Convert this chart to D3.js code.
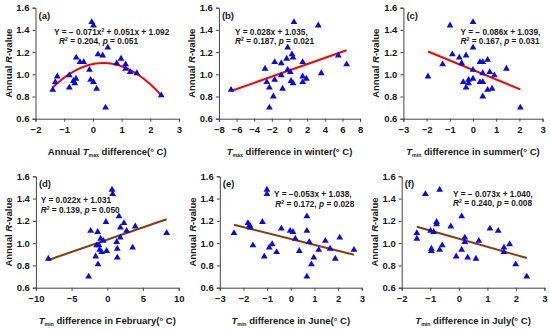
<!DOCTYPE html>
<html><head><meta charset="utf-8">
<script src="https://cdn.jsdelivr.net/npm/d3@7"></script>
<style>
body{margin:0;background:#fff}
svg{display:block}
text{font-family:"Liberation Sans",Arial,sans-serif;font-weight:bold;fill:#1a1a1a}
</style>
</head><body>
<svg id="c" width="550" height="330"></svg>
<script>
// ---------- data ----------
const yTicks = [0.6, 0.8, 1.0, 1.2, 1.4, 1.6];

const aXTicks = [-2, -1, 0, 1, 2, 3];
const aX = [-1.40,-1.31,-1.24,-0.82,-0.82,-0.68,-0.63,-0.59,-0.58,-0.45,-0.32,-0.12,-0.08,0.02,-0.04,0.02,0.13,0.18,0.34,0.44,0.52,0.83,0.98,1.14,1.14,1.30,1.53,2.38];
const aY = [0.86,0.93,0.98,0.99,0.88,0.94,0.92,0.96,1.15,1.11,1.11,1.04,0.95,0.93,1.47,1.44,0.87,1.18,1.17,0.70,1.24,1.10,1.14,1.09,1.05,1.02,1.01,0.81];
const aFit = [-0.071, 0.051, 1.092];

const bXTicks = [-8, -6, -4, -2, 0, 2, 4, 6, 8];
const bX = [-6.62,-2.77,-2.58,-2.28,-2.28,-1.83,-1.68,-1.68,-0.93,-0.93,-0.78,-0.32,-0.21,-0.21,0.09,0.17,0.28,0.40,0.40,0.51,1.49,1.49,1.49,1.91,3.26,3.60,5.53,6.47];
const bY = [0.86,1.05,0.93,0.88,0.70,0.80,1.11,0.95,1.10,0.99,0.87,1.14,1.24,1.04,1.02,0.94,1.18,1.15,0.92,1.47,1.11,0.98,0.93,0.96,1.44,1.01,1.17,1.09];
const bFit = [0, 0.028, 1.035];

const cXTicks = [-3, -2, -1, 0, 1, 2, 3];
const cX = [-1.94,-1.31,-0.99,-0.89,-0.59,-0.49,-0.42,-0.30,-0.30,-0.19,-0.19,0.00,0.00,0.00,0.00,0.30,0.42,0.30,0.42,0.42,0.42,0.63,0.63,0.72,0.82,0.92,1.44,2.04];
const cY = [0.98,1.09,1.44,1.18,1.15,1.10,0.93,1.17,0.88,0.95,0.92,1.47,1.24,1.04,0.96,1.11,1.11,0.93,0.93,1.01,0.80,1.13,0.86,1.02,0.87,0.99,1.05,0.70];
const cFit = [0, -0.086, 1.039];

const dXTicks = [-10, -5, 0, 5, 10];
const dX = [-8.26,-2.61,-2.33,-1.63,-1.49,-1.35,-1.30,-1.16,-1.07,-0.93,-0.79,-0.56,-0.19,-0.09,0.66,0.75,1.31,1.40,1.40,1.64,1.83,1.83,2.34,2.71,3.55,3.92,8.31];
const dY = [0.86,0.70,1.11,0.88,0.98,1.10,0.81,0.98,0.94,1.04,0.92,1.02,1.19,0.93,1.48,1.44,1.01,0.95,0.87,1.24,1.14,1.05,1.18,1.11,0.96,1.15,1.09];
const dFit = [0, 0.022, 1.031];

const eXTicks = [-3, -2, -1, 0, 1, 2, 3];
const eX = [-2.40,-1.81,-1.74,-1.71,-1.60,-1.20,-1.12,-1.01,-1.01,-0.91,-0.79,-0.60,-0.40,-0.03,0.09,0.19,0.36,0.68,0.68,0.68,0.78,0.87,0.97,1.18,1.46,1.66,1.88,2.07,2.67];
const eY = [1.09,1.18,1.16,1.14,0.98,1.19,0.88,1.48,1.44,0.96,0.99,0.92,1.13,1.11,1.10,1.04,0.93,1.24,1.11,0.70,1.01,0.81,0.87,0.94,1.02,0.95,0.86,1.05,0.94];
const eFit = [0, -0.053, 1.038];

const fXTicks = [-2, -1, 0, 1, 2, 3];
const fX = [-1.47,-1.47,-1.17,-0.99,-0.96,-0.96,-0.88,-0.78,-0.78,-0.67,-0.67,-0.58,-0.28,-0.09,0.10,0.10,0.21,0.21,0.31,0.60,0.70,1.09,1.38,1.58,1.58,1.78,1.99,2.38];
const fY = [1.09,1.04,1.44,1.11,0.95,0.93,1.10,1.19,1.17,1.48,0.94,0.98,1.15,0.88,1.24,0.94,1.05,1.01,0.87,0.86,1.02,1.13,1.11,0.96,0.92,0.99,0.81,0.70];
const fFit = [0, -0.073, 1.040];

// text pieces
const yTitle = [{t:"Annual "},{t:"R",i:true},{t:"-value"}];
const titles = {
  a: [{t:"Annual "},{t:"T",i:true},{t:"max",sub:true},{t:" difference(° C)"}],
  b: [{t:"T",i:true},{t:"max",sub:true},{t:" difference in winter(° C)"}],
  c: [{t:"T",i:true},{t:"min",sub:true},{t:" difference in summer(° C)"}],
  d: [{t:"T",i:true},{t:"min",sub:true},{t:" difference in February(° C)"}],
  e: [{t:"T",i:true},{t:"min",sub:true},{t:" difference in June(° C)"}],
  f: [{t:"T",i:true},{t:"min",sub:true},{t:" difference in July(° C)"}]
};
const eqs = {
  a: [[{t:"Y = − 0.071x"},{t:"2",sup:true},{t:" + 0.051x + 1.092"}],
      [{t:"R",i:true},{t:"2",sup:true},{t:" = 0.204, "},{t:"p",i:true},{t:" = 0.051"}]],
  b: [[{t:"Y = 0.028x + 1.035,"}],
      [{t:"R",i:true},{t:"2",sup:true},{t:" = 0.187, "},{t:"p",i:true},{t:" = 0.021"}]],
  c: [[{t:"Y = − 0.086x + 1.039,"}],
      [{t:"R",i:true},{t:"2",sup:true},{t:" = 0.167, "},{t:"p",i:true},{t:" = 0.031"}]],
  d: [[{t:"Y = 0.022x + 1.031"}],
      [{t:"R",i:true},{t:"2",sup:true},{t:" = 0.139, "},{t:"p",i:true},{t:" = 0.050"}]],
  e: [[{t:"Y = −0.053x + 1.038,"}],
      [{t:"R",i:true},{t:"2",sup:true},{t:" = 0.172, "},{t:"p",i:true},{t:" = 0.028"}]],
  f: [[{t:"Y = − 0.073x + 1.040,"}],
      [{t:"R",i:true},{t:"2",sup:true},{t:" = 0.240, "},{t:"p",i:true},{t:" = 0.008"}]]
};

// ---------- layout ----------
const RED = "#ff0000", BROWN = "#8b3a0a";
const panels = [
  {k:"a", x:aX, y:aY, ticks:aXTicks, fit:aFit, col:RED,   box:[35.5,179,7.7,118.7],   eq:[[54,34.7],[59,44.2]]},
  {k:"b", x:bX, y:bY, ticks:bXTicks, fit:bFit, col:RED,   box:[218.9,360.1,7.7,118.7], eq:[[235,34.5],[235,44]]},
  {k:"c", x:cX, y:cY, ticks:cXTicks, fit:cFit, col:RED,   box:[403.4,542.6,7.7,118.7], eq:[[460.5,34.5],[460.5,44]]},
  {k:"d", x:dX, y:dY, ticks:dXTicks, fit:dFit, col:BROWN, box:[35.9,178.7,176.3,287.7], eq:[[40.7,203.3],[40.7,212.8]]},
  {k:"e", x:eX, y:eY, ticks:eXTicks, fit:eFit, col:BROWN, box:[219.8,361.8,176.3,287.7], eq:[[274,197.3],[275.3,206.8]]},
  {k:"f", x:fX, y:fY, ticks:fXTicks, fit:fFit, col:BROWN, box:[401.7,544.5,176.3,287.7], eq:[[453,196.8],[453,206.3]]}
];

const svg = d3.select("#c");

function rich(sel, parts, fs) {
  let shift = 0;
  parts.forEach(p => {
    const ts = sel.append("tspan").text(p.t);
    if (p.i) ts.attr("font-style", "italic");
    let target = 0;
    if (p.sup) { target = -fs*0.38; ts.attr("font-size", fs*0.62); }
    if (p.sub) { target = fs*0.2; ts.attr("font-size", fs*0.55); }
    if (target !== shift) { ts.attr("dy", target - shift); shift = target; }
  });
}

const fmtY = d3.format(".1f");
const fmtX = d3.format("");

panels.forEach(P => {
  const [l, r, t, b] = P.box;
  const xs = d3.scaleLinear().domain([P.ticks[0], P.ticks[P.ticks.length-1]]).range([l, r]);
  const ys = d3.scaleLinear().domain([0.6, 1.6]).range([b, t]);
  const g = svg.append("g");

  // axes
  const ax = g.append("g").attr("transform", `translate(0,${b})`)
    .call(d3.axisBottom(xs).tickValues(P.ticks).tickFormat(fmtX).tickSizeOuter(0).tickSize(3).tickPadding(4.5));
  const ay = g.append("g").attr("transform", `translate(${l},0)`)
    .call(d3.axisLeft(ys).tickValues(yTicks).tickFormat(fmtY).tickSizeOuter(0).tickSize(3).tickPadding(3));
  [ax, ay].forEach(a => {
    a.select(".domain").attr("stroke", "#444").attr("stroke-width", 1);
    a.selectAll(".tick line").attr("stroke", "#444");
    a.selectAll("text").attr("font-size", 9.5).attr("fill", "#1a1a1a")
      .attr("font-family", '"Liberation Sans",Arial,sans-serif').attr("font-weight", "bold");
  });

  // fit line / curve
  const ext = d3.extent(P.x);
  const fx = v => P.fit[0]*v*v + P.fit[1]*v + P.fit[2];
  const n = P.fit[0] !== 0 ? 60 : 1;
  const pts = d3.range(n + 1).map(i => ext[0] + (ext[1]-ext[0]) * i / n);
  g.append("path").datum(pts)
    .attr("d", d3.line().x(v => xs(v)).y(v => ys(fx(v))))
    .attr("fill", "none").attr("stroke", P.col).attr("stroke-width", 2);

  // markers
  const tri = d3.symbol().type(d3.symbolTriangle).size(20);
  g.selectAll("path.pt").data(P.x.map((v, i) => [v, P.y[i]])).join("path")
    .attr("class", "pt")
    .attr("transform", d => `translate(${xs(d[0])},${ys(d[1])})`)
    .attr("d", tri).attr("fill", "#0a0ae6");

  // panel letter
  g.append("text").attr("x", l + 3).attr("y", t + 11).attr("font-size", 9.5)
    .text(`(${P.k})`);

  // equations
  eqs[P.k].forEach((line, i) => {
    const tx = g.append("text").attr("x", P.eq[i][0]).attr("y", P.eq[i][1]).attr("font-size", 8.3);
    rich(tx, line, 8.3);
  });

  // x title
  const xt = g.append("text").attr("x", (l + r) / 2).attr("y", b + 36.5)
    .attr("text-anchor", "middle").attr("font-size", 9.5);
  rich(xt, titles[P.k], 9.5);

  // y title
  const yt = g.append("text")
    .attr("transform", `translate(${l - 24},${(t + b) / 2}) rotate(-90)`)
    .attr("text-anchor", "middle").attr("font-size", 9.5);
  rich(yt, yTitle, 9.5);
});
</script>
</body></html>
